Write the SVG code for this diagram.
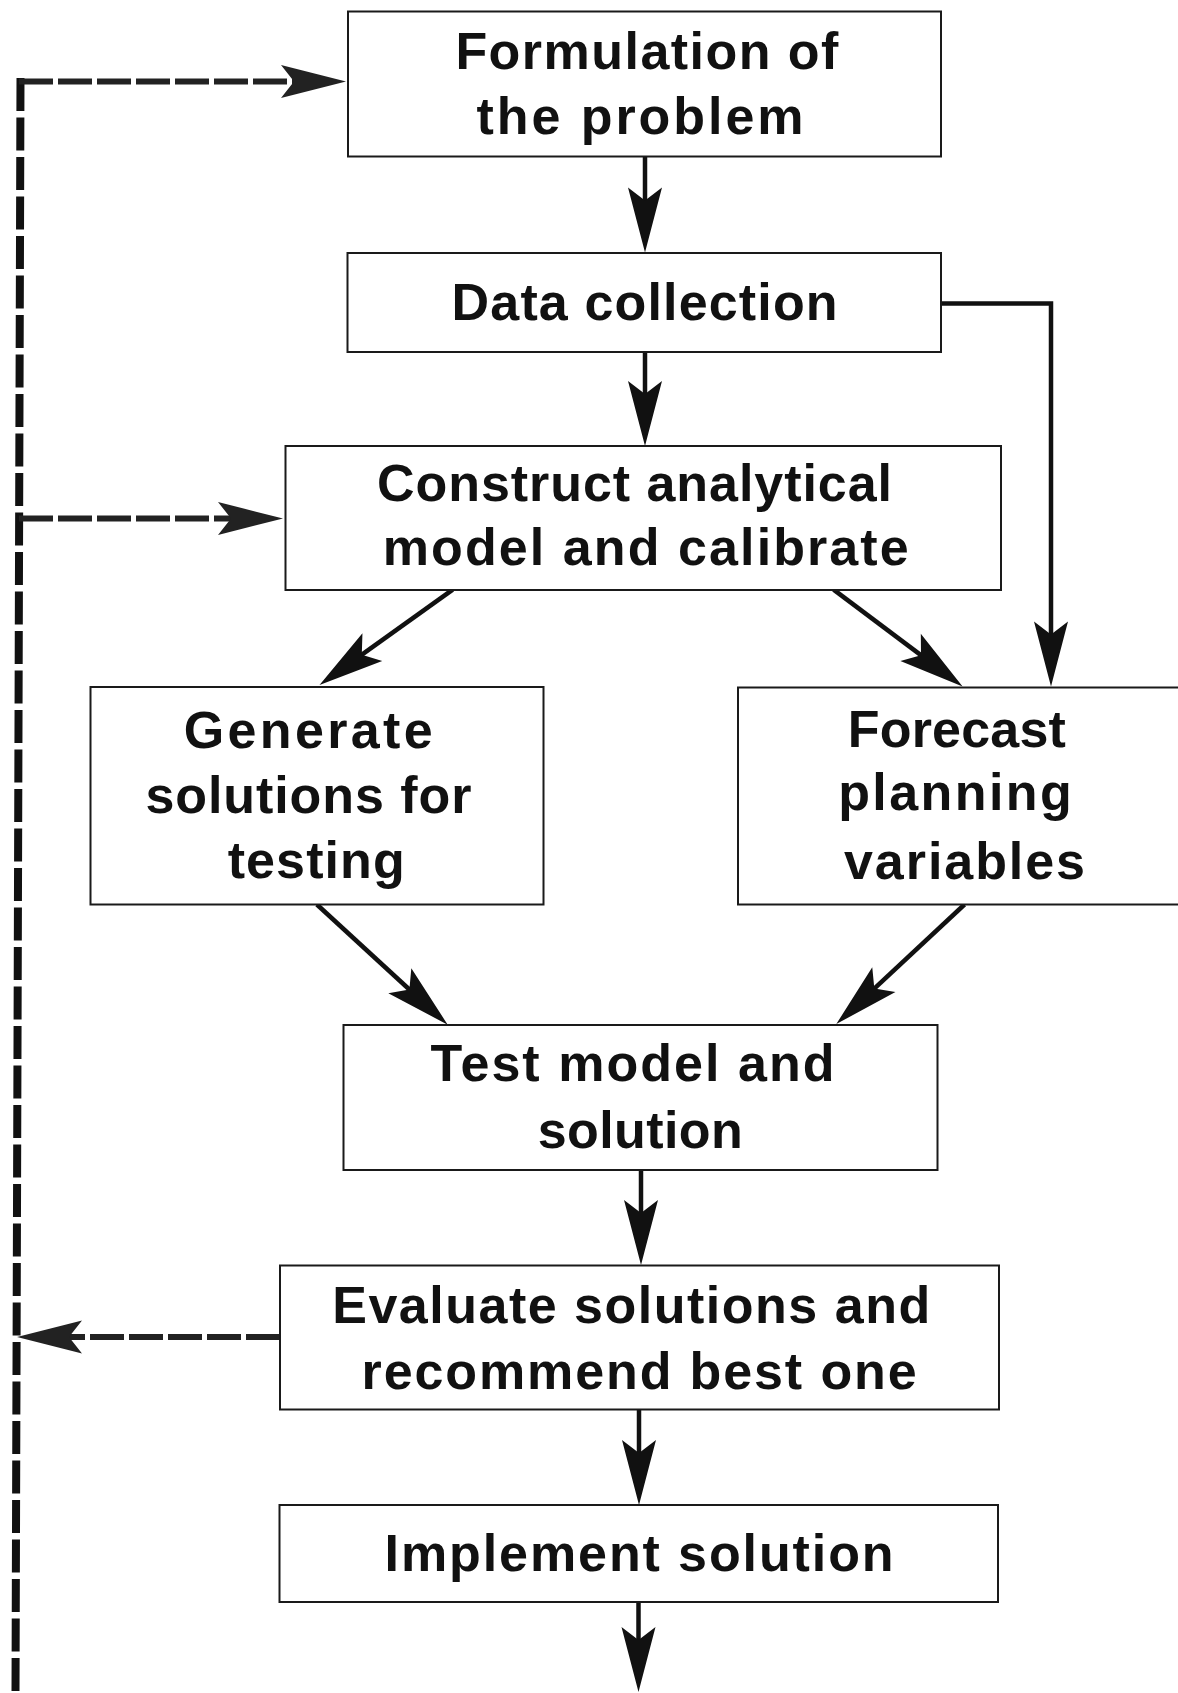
<svg xmlns="http://www.w3.org/2000/svg" width="1178" height="1693" viewBox="0 0 1178 1693">
<style>
  .box { fill: #ffffff; stroke: #1a1a1a; stroke-width: 2; }
  .lbl { font-family: "Liberation Sans", Arial, sans-serif; font-weight: bold; font-size: 52px; fill: #111; }
  .solid { fill: none; stroke: #111; stroke-width: 4.5; }
  .dashh { fill: none; stroke: #222; stroke-width: 6; stroke-dasharray: 34 5; }
  .dashv { fill: none; stroke: #111; stroke-width: 8; stroke-dasharray: 33 6.5; }
</style>
<defs>
  <marker id="arrow" markerUnits="userSpaceOnUse" orient="auto" refX="0" refY="0" markerWidth="80" markerHeight="40" viewBox="-30 -20 70 40" overflow="visible">
    <path d="M38,0 L-27,-17 L-14,0 L-27,17 Z" fill="#111"/>
  </marker>
  <marker id="arrowd" markerUnits="userSpaceOnUse" orient="auto" refX="0" refY="0" markerWidth="80" markerHeight="40" viewBox="-30 -20 70 40" overflow="visible">
    <path d="M38,0 L-27,-16.5 L-14,0 L-27,16.5 Z" fill="#222"/>
  </marker>
</defs>
<rect width="1178" height="1693" fill="#ffffff"/>

<g id="connectors">
  <path class="solid" d="M645,157 V214.5" marker-end="url(#arrow)"/>
  <path class="solid" d="M645,352 V408" marker-end="url(#arrow)"/>
  <path class="solid" d="M941,303.5 H1051 V648.4" marker-end="url(#arrow)"/>
  <path class="solid" d="M452.7,589.6 L350.4,662.9" marker-end="url(#arrow)"/>
  <path class="solid" d="M833.6,589.6 L932.2,663.6" marker-end="url(#arrow)"/>
  <path class="solid" d="M316.9,904.5 L419.7,999" marker-end="url(#arrow)"/>
  <path class="solid" d="M964.5,904.5 L864.1,998.1" marker-end="url(#arrow)"/>
  <path class="solid" d="M641,1170 V1227" marker-end="url(#arrow)"/>
  <path class="solid" d="M639,1410 V1467" marker-end="url(#arrow)"/>
  <path class="solid" d="M638.5,1602 V1654" marker-end="url(#arrow)"/>
  <path class="dashv" d="M20.5,78 L15.5,1693"/>
  <path class="dashh" d="M19,81.5 H308" marker-end="url(#arrowd)"/>
  <path class="dashh" d="M19,518.5 H245" marker-end="url(#arrowd)"/>
  <path class="dashh" d="M280,1337 H55" marker-end="url(#arrowd)"/>
</g>

<g id="n1">
  <rect class="box" x="348" y="11.5" width="593" height="145"/>
  <text class="lbl" x="455.4" y="69" textLength="383" lengthAdjust="spacing">Formulation of</text>
  <text class="lbl" x="476.5" y="134" textLength="327" lengthAdjust="spacing">the problem</text>
</g>
<g id="n2">
  <rect class="box" x="347.5" y="253" width="593.5" height="99"/>
  <text class="lbl" x="451.6" y="319.5" textLength="386" lengthAdjust="spacing">Data collection</text>
</g>
<g id="n3">
  <rect class="box" x="285.5" y="446" width="715.5" height="144"/>
  <text class="lbl" x="377" y="501.3" textLength="515" lengthAdjust="spacing">Construct analytical</text>
  <text class="lbl" x="382.7" y="564.5" textLength="526" lengthAdjust="spacing">model and calibrate</text>
</g>
<g id="n4">
  <rect class="box" x="90.5" y="687" width="453" height="217.5"/>
  <text class="lbl" x="183.7" y="748.4" textLength="249" lengthAdjust="spacing">Generate</text>
  <text class="lbl" x="145.4" y="813.4" textLength="326" lengthAdjust="spacing">solutions for</text>
  <text class="lbl" x="227.7" y="877.7" textLength="177" lengthAdjust="spacing">testing</text>
</g>
<g id="n5">
  <rect class="box" x="738" y="687.5" width="460" height="217"/>
  <text class="lbl" x="847.8" y="746.5" textLength="218" lengthAdjust="spacing">Forecast</text>
  <text class="lbl" x="838.2" y="809.6" textLength="233.5" lengthAdjust="spacing">planning</text>
  <text class="lbl" x="844" y="878.5" textLength="241" lengthAdjust="spacing">variables</text>
</g>
<g id="n6">
  <rect class="box" x="343.5" y="1025" width="594" height="145"/>
  <text class="lbl" x="430.5" y="1081.3" textLength="404" lengthAdjust="spacing">Test model and</text>
  <text class="lbl" x="537.7" y="1148.3" textLength="205" lengthAdjust="spacing">solution</text>
</g>
<g id="n7">
  <rect class="box" x="280" y="1265.5" width="719" height="144"/>
  <text class="lbl" x="332.2" y="1323" textLength="598" lengthAdjust="spacing">Evaluate solutions and</text>
  <text class="lbl" x="361.6" y="1389" textLength="555" lengthAdjust="spacing">recommend best one</text>
</g>
<g id="n8">
  <rect class="box" x="279.5" y="1505" width="718.5" height="97"/>
  <text class="lbl" x="384.6" y="1570.7" textLength="509" lengthAdjust="spacing">Implement solution</text>
</g>
</svg>
